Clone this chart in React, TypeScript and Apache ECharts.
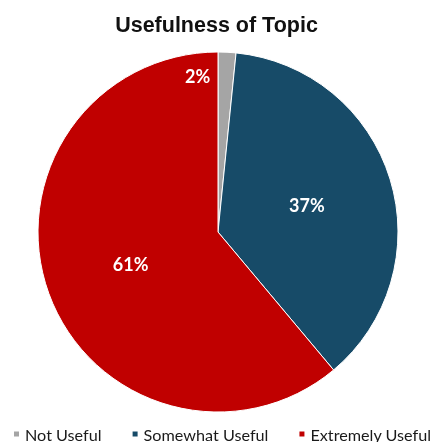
import React, { useEffect, useRef } from "react";
import * as echarts from "echarts";

const categories = ["Not Useful", "Somewhat Useful", "Extremely Useful"];
const values = [1.6, 37.3, 61.1];
const colors = ["#A5A5A5", "#174B68", "#C00000"];

export default function App() {
  const ref = useRef<HTMLDivElement>(null);
  useEffect(() => {
    const chart = echarts.init(ref.current!, null, { renderer: "svg" });
    chart.setOption({
      animation: false,
      title: {
        text: "Usefulness of Topic",
        left: "center",
        top: 9,
        textStyle: {
          fontFamily: "Liberation Sans",
          fontWeight: "bold",
          fontSize: 21.5,
          color: "#111",
        },
      },
      legend: {
        data: categories,
        bottom: 0,
        left: 12,
        width: 430,
        padding: 0,
        icon: "rect",
        itemWidth: 7,
        itemHeight: 7,
        itemGap: 29,
        textStyle: { fontFamily: "Lato", fontSize: 16.2, color: "#1a1a1a" },
      },
      series: [
        {
          type: "pie",
          center: [218, 232],
          radius: 180,
          startAngle: 90,
          clockwise: true,
          labelLine: { show: false },
          itemStyle: { borderColor: "#fff", borderWidth: 1 },
          label: {
            show: true,
            position: "inner",
            formatter: (p: any) => Math.round(p.percent) + "%",
            color: "#fff",
            fontFamily: "Lato",
            fontWeight: "bold",
            fontSize: 18,
          },
          labelLayout: (p: any) =>
            p.dataIndex === 0 ? { dx: -25, dy: -63 } : {},
          data: categories.map((name, i) => ({
            name,
            value: values[i],
            itemStyle: { color: colors[i] },
          })),
        },
      ],
    });
    return () => chart.dispose();
  }, []);
  return (
    <div
      ref={ref}
      style={{ position: "fixed", left: 0, top: 0, width: 433, height: 442 }}
    />
  );
}
